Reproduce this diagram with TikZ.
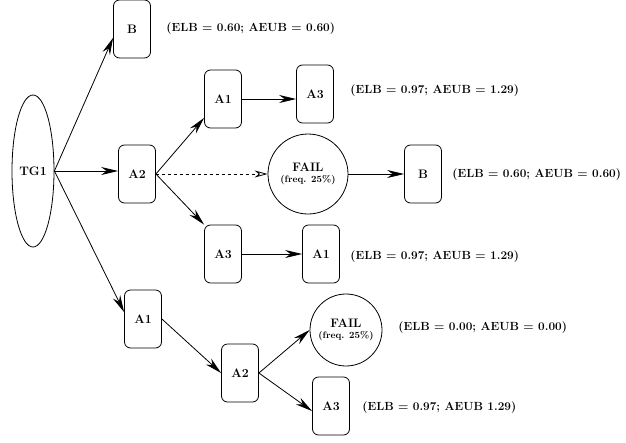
\documentclass[tikz,border=0pt]{standalone}
\usetikzlibrary{arrows.meta,shapes.geometric}
\begin{document}
\begin{tikzpicture}[x=1pt,y=-1pt,line width=0.8pt,
		font=\fontsize{12.3}{13}\selectfont\bfseries,
		state/.style={draw,rounded corners=6pt,minimum width=37pt,minimum height=58pt,inner sep=0pt},
		fail/.style={draw,circle,inner sep=0pt,align=center},
		bound/.style={anchor=west,inner sep=0pt,font=\fontsize{11.8}{13}\selectfont\bfseries},
		arr/.style={-{Stealth[length=17pt,width=8pt]}},
		tried/.style={dashed,-{Stealth[open,length=13pt,width=7pt]}}]
		
		\useasboundingbox (0,0) rectangle (626,442);
		
		\node[draw,ellipse,minimum width=42pt,minimum height=152pt,inner sep=0pt] (tg1) at (33,171) {TG1};
		
		\node[state] (b1) at (132,29) {B};
		\node[state] (a2) at (137,174) {A2};
		\node[state] (a1) at (223,99) {A1};
		\node[state] (a3) at (315,94) {A3};
		\node[fail,minimum size=80pt] (f1) at (308,174) {FAIL\\[-2pt]{\fontsize{9.5}{10}\selectfont (freq. 25\%)}};
		\node[state] (b2) at (423,174) {B};
		\node[state] (a3b) at (223,254) {A3};
		\node[state] (a1b) at (321,254) {A1};
		\node[state] (a1c) at (143,319) {A1};
		\node[state] (a2c) at (240,373) {A2};
		\node[fail,minimum size=72pt] (f2) at (346,330) {FAIL\\[-2pt]{\fontsize{9.5}{10}\selectfont (freq. 25\%)}};
		\node[state] (a3c) at (331,406) {A3};
		
		\node[bound] (l1) at (166,29) {(ELB = 0.60; AEUB = 0.60)};
		\node[bound] (l2) at (350,91) {(ELB = 0.97; AEUB = 1.29)};
		\node[bound] (l3) at (452,175) {(ELB = 0.60; AEUB = 0.60)};
		\node[bound] (l4) at (350,257) {(ELB = 0.97; AEUB = 1.29)};
		\node[bound] (l5) at (398,328) {(ELB = 0.00; AEUB = 0.00)};
		\node[bound] (l6) at (362,408) {(ELB = 0.97; AEUB 1.29)};
		
		\draw[arr] (tg1.east) -- (b1.205);
		\draw[arr] (tg1.east) -- (tg1.east -| a2.west);
		\draw[arr] (tg1.east) -- (a1c.160);
		
		\draw[arr] (a2.east) -- (a1.225);
		\draw[tried] (a2.east) -- (f1.west);
		\draw[arr] (a2.east) -- (a3b.north west);
		
		\draw[arr] (a1.east) -- (a1.east -| a3.west);
		\draw[arr] (f1) -- (b2);
		\draw[arr] (a3b) -- (a1b);
		
		\draw[arr] (a1c.east) -- (a2c.west);
		\draw[arr] (a2c.east) -- (f2.west);
		\draw[arr] (a2c.east) -- (a3c.195);
		
	\end{tikzpicture}
\end{document}
